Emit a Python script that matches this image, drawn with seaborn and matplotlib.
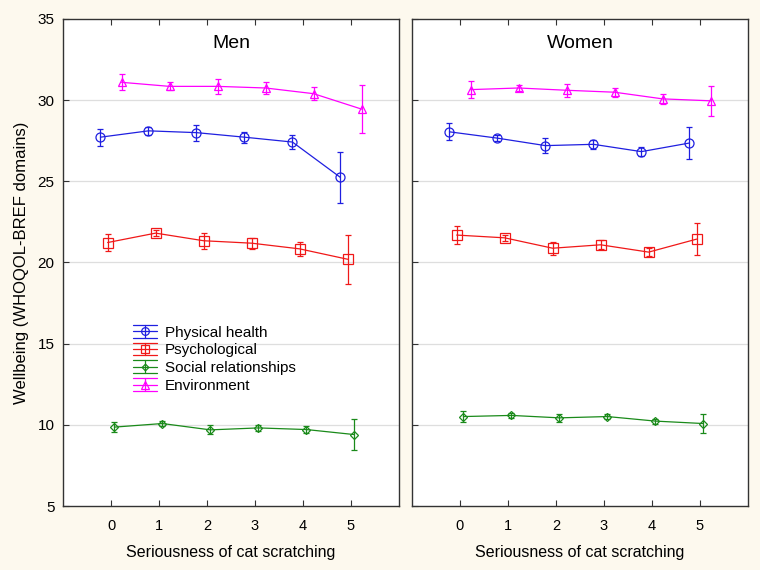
import numpy as np
import pandas as pd
import matplotlib
matplotlib.use("Agg")
import matplotlib.pyplot as plt
import matplotlib.lines as mlines
from matplotlib.legend_handler import HandlerBase
import seaborn as sns

# ---------------- data ----------------
levels = [0, 1, 2, 3, 4, 5]
domains = ["Physical health", "Psychological", "Social relationships", "Environment"]
panels = ["Men", "Women"]

men_physical = [27.72, 28.11, 28.00, 27.72, 27.42, 25.24]
men_physical_err = [0.52, 0.25, 0.49, 0.33, 0.42, 1.55]
men_psych = [21.23, 21.81, 21.34, 21.19, 20.84, 20.20]
men_psych_err = [0.51, 0.20, 0.48, 0.33, 0.42, 1.52]
men_social = [9.86, 10.08, 9.69, 9.81, 9.71, 9.40]
men_social_err = [0.33, 0.15, 0.27, 0.19, 0.24, 0.95]
men_env = [31.10, 30.85, 30.85, 30.75, 30.40, 29.45]
men_env_err = [0.49, 0.25, 0.47, 0.35, 0.40, 1.50]

women_physical = [28.05, 27.66, 27.20, 27.28, 26.83, 27.36]
women_physical_err = [0.53, 0.20, 0.45, 0.27, 0.30, 0.99]
women_psych = [21.69, 21.52, 20.88, 21.09, 20.64, 21.44]
women_psych_err = [0.53, 0.17, 0.41, 0.27, 0.25, 0.97]
women_social = [10.51, 10.58, 10.43, 10.51, 10.23, 10.08]
women_social_err = [0.34, 0.13, 0.26, 0.16, 0.16, 0.58]
women_env = [30.65, 30.75, 30.61, 30.49, 30.08, 29.96]
women_env_err = [0.53, 0.19, 0.41, 0.28, 0.29, 0.92]

yticks = [5, 10, 15, 20, 25, 30, 35]

# ---------------- styling ----------------
colors = {"Physical health": "#1f1fe0", "Psychological": "#f01818",
          "Social relationships": "#1a8a1a", "Environment": "#ff00ff"}
markers = {"Physical health": "o", "Psychological": "s",
           "Social relationships": "D", "Environment": "^"}
msizes = {"Physical health": 6.5, "Psychological": 6.5,
          "Social relationships": 4.0, "Environment": 6.0}
offsets = {"Physical health": -0.22, "Psychological": -0.07,
           "Social relationships": 0.07, "Environment": 0.22}

sns.set_style("white")
plt.rcParams["font.family"] = ["Liberation Sans", "DejaVu Sans"]
plt.rcParams["text.color"] = "black"
plt.rcParams["axes.labelcolor"] = "black"
plt.rcParams["xtick.color"] = "black"
plt.rcParams["ytick.color"] = "black"

series = {
    "Men": {"Physical health": (men_physical, men_physical_err),
            "Psychological": (men_psych, men_psych_err),
            "Social relationships": (men_social, men_social_err),
            "Environment": (men_env, men_env_err)},
    "Women": {"Physical health": (women_physical, women_physical_err),
              "Psychological": (women_psych, women_psych_err),
              "Social relationships": (women_social, women_social_err),
              "Environment": (women_env, women_env_err)},
}

rows = []
for p in panels:
    for d in domains:
        vals, errs = series[p][d]
        for lv, v, e in zip(levels, vals, errs):
            rows.append({"panel": p, "domain": d, "level": lv,
                         "x": lv + offsets[d], "value": v, "err": e})
df = pd.DataFrame(rows)


class ErrHandle(HandlerBase):
    """Legend key: line + marker with wide error caps above and below."""
    def create_artists(self, legend, orig_handle, xdescent, ydescent,
                       width, height, fontsize, trans):
        c = orig_handle.get_color()
        cy = height / 2 - ydescent
        x0, x1 = -xdescent, -xdescent + width
        xm = (x0 + x1) / 2
        h = 4.6
        arts = [
            mlines.Line2D([x0, x1], [cy, cy], color=c, lw=0.9),
            mlines.Line2D([x0, x1], [cy + h, cy + h], color=c, lw=0.9),
            mlines.Line2D([x0, x1], [cy - h, cy - h], color=c, lw=0.9),
            mlines.Line2D([xm, xm], [cy - h, cy + h], color=c, lw=0.9),
            mlines.Line2D([xm], [cy], color=c, lw=0,
                          marker=orig_handle.get_marker(),
                          markersize=orig_handle.get_markersize() * 0.85,
                          markerfacecolor="none", markeredgecolor=c,
                          markeredgewidth=0.9),
        ]
        for a in arts:
            a.set_transform(trans)
        return arts


fig = plt.figure(figsize=(7.6, 5.7), dpi=100, facecolor="#fdf9ee")
ax1 = fig.add_axes([63 / 760, 64 / 570, 336 / 760, 487 / 570])
ax2 = fig.add_axes([412 / 760, 64 / 570, 336 / 760, 487 / 570], sharey=ax1)

for ax, p in zip([ax1, ax2], panels):
    sub = df[df.panel == p]
    ax.set_facecolor("white")
    for y in yticks[1:-1]:
        ax.axhline(y, color="#dedede", lw=0.9, zorder=0)
    for d in domains:
        s = sub[sub.domain == d]
        sns.lineplot(data=s, x="x", y="value", ax=ax, color=colors[d],
                     lw=0.9, marker=markers[d], markersize=msizes[d],
                     markerfacecolor="none", markeredgecolor=colors[d],
                     markeredgewidth=0.9, legend=False, errorbar=None,
                     sort=True, zorder=3)
        ax.errorbar(s["x"], s["value"], yerr=s["err"], fmt="none",
                    ecolor=colors[d], elinewidth=0.9, capsize=2.2,
                    capthick=0.9, zorder=3)
    ax.set_xlim(-1, 6)
    ax.set_ylim(5, 35)
    ax.set_xticks(levels)
    ax.set_xticklabels([str(l) for l in levels], fontsize=10.5)
    ax.set_yticks(yticks)
    ax.tick_params(axis="both", direction="in", length=4, width=0.8,
                   color="#333333", top=True, left=True, bottom=True,
                   right=False, pad=9)
    ax.tick_params(axis="y", labelsize=11, pad=6)
    for sp in ax.spines.values():
        sp.set_color("#333333")
        sp.set_linewidth(1.0)
    ax.set_xlabel("Seriousness of cat scratching", fontsize=11.5, labelpad=9)
    ax.set_ylabel("")
    ax.text(0.5, 0.95, p, transform=ax.transAxes, ha="center", va="center",
            fontsize=14)

ax1.set_ylabel("Wellbeing (WHOQOL-BREF domains)", fontsize=12, labelpad=6)
plt.setp(ax2.get_yticklabels(), visible=False)

handles = [mlines.Line2D([], [], color=colors[d], marker=markers[d],
                         markersize=msizes[d], lw=0.9, label=d)
           for d in domains]
ax1.legend(handles=handles, loc="upper left", bbox_to_anchor=(0.19, 0.383),
           frameon=False, fontsize=11, labelspacing=0.25, handlelength=1.6,
           handleheight=0.7, handletextpad=0.5, borderaxespad=0,
           handler_map={mlines.Line2D: ErrHandle()})

fig.savefig("out.png", dpi=100, facecolor=fig.get_facecolor())
